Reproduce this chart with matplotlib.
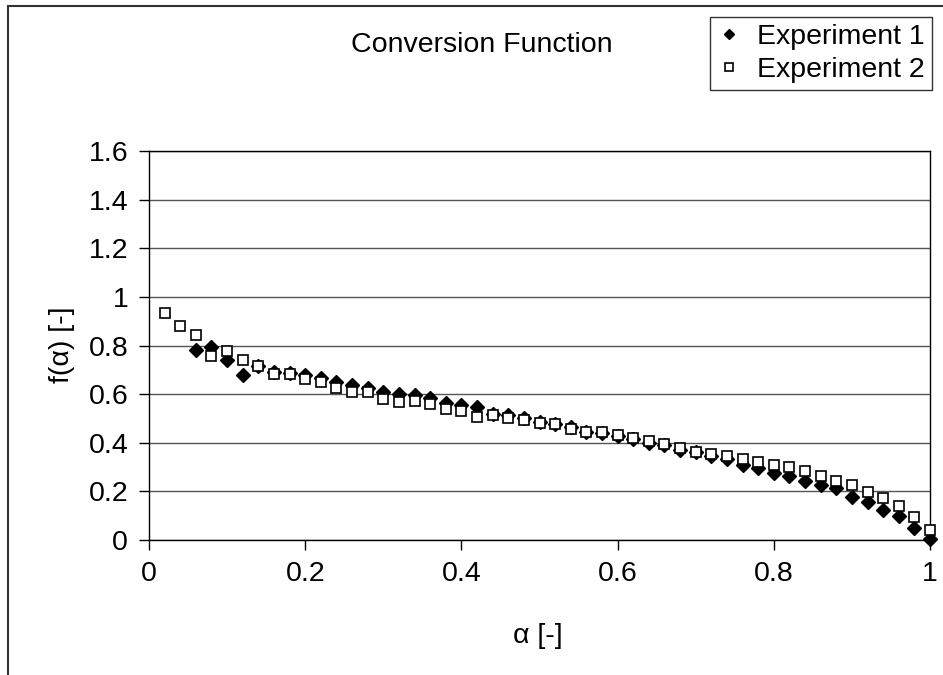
import matplotlib
matplotlib.use('Agg')
import matplotlib.pyplot as plt
from matplotlib.patches import Rectangle
from matplotlib.ticker import FormatStrFormatter

# data
alpha_exp1 = [0.06, 0.08, 0.10, 0.12, 0.14, 0.16, 0.18, 0.20, 0.22, 0.24,
              0.26, 0.28, 0.30, 0.32, 0.34, 0.36, 0.38, 0.40, 0.42, 0.44,
              0.46, 0.48, 0.50, 0.52, 0.54, 0.56, 0.58, 0.60, 0.62, 0.64,
              0.66, 0.68, 0.70, 0.72, 0.74, 0.76, 0.78, 0.80, 0.82, 0.84,
              0.86, 0.88, 0.90, 0.92, 0.94, 0.96, 0.98, 1.00]
f_exp1 = [0.781, 0.794, 0.739, 0.680, 0.716, 0.690, 0.688, 0.678, 0.665, 0.650,
          0.638, 0.625, 0.610, 0.600, 0.595, 0.583, 0.563, 0.556, 0.547, 0.518,
          0.515, 0.503, 0.484, 0.477, 0.463, 0.444, 0.439, 0.427, 0.415, 0.401,
          0.390, 0.372, 0.360, 0.345, 0.334, 0.310, 0.297, 0.277, 0.265, 0.241,
          0.226, 0.215, 0.178, 0.155, 0.125, 0.097, 0.049, 0.004]

alpha_exp2 = [0.02, 0.04] + alpha_exp1
f_exp2 = [0.932, 0.881, 0.845, 0.757, 0.778, 0.742, 0.714, 0.684, 0.684, 0.662,
          0.648, 0.626, 0.610, 0.610, 0.582, 0.568, 0.572, 0.559, 0.537, 0.530,
          0.507, 0.514, 0.501, 0.494, 0.481, 0.477, 0.458, 0.446, 0.443, 0.432,
          0.419, 0.406, 0.396, 0.378, 0.364, 0.355, 0.347, 0.335, 0.321, 0.307,
          0.299, 0.284, 0.265, 0.241, 0.226, 0.197, 0.174, 0.138, 0.094, 0.043]

x_ticks = [0, 0.2, 0.4, 0.6, 0.8, 1.0]
y_ticks = [0, 0.2, 0.4, 0.6, 0.8, 1.0, 1.2, 1.4, 1.6]

plt.rcParams['font.family'] = ['Liberation Sans', 'DejaVu Sans']
fs = 20.5

fig = plt.figure(figsize=(9.43, 6.75), dpi=100)
W, H = 943, 675
ax = fig.add_axes([149 / W, 1 - 540 / H, (930 - 149) / W, (540 - 151) / H])

ax.plot(alpha_exp1, f_exp1, linestyle='none', marker='D', ms=7,
        color='black', label='Experiment 1', clip_on=False, zorder=3)
ax.plot(alpha_exp2, f_exp2, linestyle='none', marker='s', ms=7.5,
        mfc='white', mec='black', mew=1.2, label='Experiment 2',
        clip_on=False, zorder=4)

ax.set_xlim(0, 1)
ax.set_ylim(0, 1.6)
ax.set_xticks(x_ticks)
ax.set_yticks(y_ticks)
ax.xaxis.set_major_formatter(FormatStrFormatter('%g'))
ax.yaxis.set_major_formatter(FormatStrFormatter('%g'))
ax.tick_params(direction='out', length=7, width=1, labelsize=fs, pad=8)
ax.yaxis.grid(True, color='#555555', lw=1)
ax.set_axisbelow(True)
for s in ax.spines.values():
    s.set_color('black')
    s.set_linewidth(1)

fig.text(482 / W, 1 - 45 / H, 'Conversion Function', fontsize=fs,
         ha='center', va='center')
fig.text(62 / W, 1 - 345 / H, 'f(α) [-]', fontsize=fs, rotation=90,
         ha='center', va='center')
fig.text(538 / W, 1 - 636 / H, 'α [-]', fontsize=fs, ha='center', va='center')

leg = fig.legend(loc='upper right', bbox_to_anchor=(932 / W, 1 - 17 / H),
                 borderaxespad=0, fontsize=fs, frameon=True, fancybox=False,
                 edgecolor='black', handlelength=0.8, handletextpad=0.6,
                 borderpad=0.25, labelspacing=0.25, markerscale=0.75)
leg.get_frame().set_linewidth(1)

# outer chart border
fig.add_artist(Rectangle((8 / W, -0.1), 2, 1.1 - 6 / H, transform=fig.transFigure,
                         fill=False, ec='#333333', lw=1.5))

fig.savefig('out.png', dpi=100)
